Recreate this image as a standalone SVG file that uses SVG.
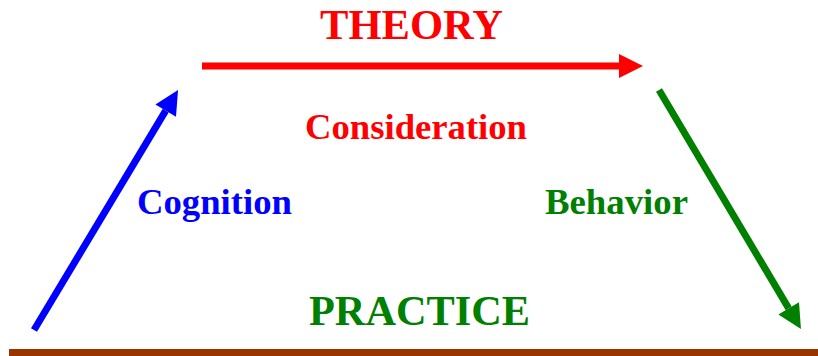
<svg xmlns="http://www.w3.org/2000/svg" width="818" height="356" viewBox="0 0 818 356">
<style>
.t{font-family:"Liberation Serif","Times New Roman",serif;font-weight:bold;text-anchor:start}
.big{font-size:42px}
.mid{font-size:36px}
.ln{stroke-width:7;fill:none;stroke-linecap:butt}
</style>
<defs>
<marker id="hr" markerUnits="userSpaceOnUse" markerWidth="24" markerHeight="24" refX="0" refY="12" orient="auto" overflow="visible"><path d="M0,0 L24,12 L0,24 Z" fill="#FF0000"/></marker>
<marker id="hb" markerUnits="userSpaceOnUse" markerWidth="24" markerHeight="24" refX="0" refY="12" orient="auto" overflow="visible"><path d="M0,0 L24,12 L0,24 Z" fill="#0000FF"/></marker>
<marker id="hg" markerUnits="userSpaceOnUse" markerWidth="24" markerHeight="24" refX="0" refY="12" orient="auto" overflow="visible"><path d="M0,0 L24,12 L0,24 Z" fill="#008000"/></marker>
</defs>
<rect x="0" y="0" width="818" height="356" fill="#FFFFFF"/>
<g id="connectors">
<line class="ln" x1="202" y1="66" x2="619" y2="66" stroke="#FF0000" marker-end="url(#hr)"/>
<line class="ln" x1="34" y1="330" x2="165.7" y2="110.6" stroke="#0000FF" marker-end="url(#hb)"/>
<line class="ln" x1="659" y1="90" x2="788.7" y2="308.4" stroke="#008000" marker-end="url(#hg)"/>
</g>
<g id="ground"><rect x="9" y="349" width="809" height="7" fill="#993300"/></g>
<g id="theory"><text class="t big" x="320" y="39" fill="#FF0000" textLength="183" lengthAdjust="spacingAndGlyphs">THEORY</text></g>
<g id="consideration"><text class="t mid" x="305" y="139" fill="#FF0000" textLength="222" lengthAdjust="spacingAndGlyphs">Consideration</text></g>
<g id="cognition"><text class="t mid" x="137" y="214" fill="#0000FF" textLength="155" lengthAdjust="spacingAndGlyphs">Cognition</text></g>
<g id="behavior"><text class="t mid" x="545" y="214" fill="#008000" textLength="143" lengthAdjust="spacingAndGlyphs">Behavior</text></g>
<g id="practice"><text class="t big" x="309" y="325" fill="#008000" textLength="221" lengthAdjust="spacingAndGlyphs">PRACTICE</text></g>
</svg>
